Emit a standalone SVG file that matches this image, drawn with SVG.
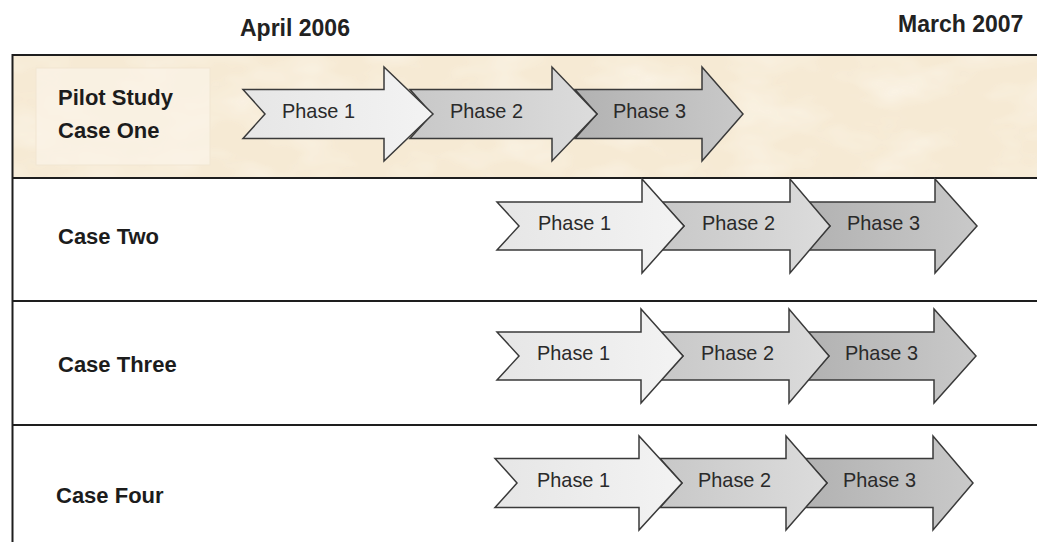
<svg xmlns="http://www.w3.org/2000/svg" width="1037" height="542" viewBox="0 0 1037 542">
  <defs>
    <style>
      .hdr { font-family: "Liberation Sans", Arial, sans-serif; font-weight: bold; font-size: 23px; fill: #222; }
      .lbl { font-family: "Liberation Sans", Arial, sans-serif; font-weight: bold; font-size: 22px; fill: #1c1c1c; }
      .ph  { font-family: "Liberation Sans", Arial, sans-serif; font-size: 21px; fill: #2a2a2a; }
      .arrow { stroke: #3a3a3a; stroke-width: 1.5; stroke-linejoin: miter; }
      .p1 { fill: url(#g1); }
      .p2 { fill: url(#g2); }
      .p3 { fill: url(#g3); }
      .rule { stroke: #1e1e1e; stroke-width: 2; fill: none; }
    </style>
    <linearGradient id="g1" x1="0" y1="0" x2="1" y2="0">
      <stop offset="0" stop-color="#e6e6e6"/>
      <stop offset="1" stop-color="#f3f3f3"/>
    </linearGradient>
    <linearGradient id="g2" x1="0" y1="0" x2="1" y2="0">
      <stop offset="0" stop-color="#c8c8c8"/>
      <stop offset="1" stop-color="#dcdcdc"/>
    </linearGradient>
    <linearGradient id="g3" x1="0" y1="0" x2="1" y2="0">
      <stop offset="0" stop-color="#b2b2b2"/>
      <stop offset="1" stop-color="#c9c9c9"/>
    </linearGradient>
    <!-- parchment mottling for the pilot row -->
    <filter id="parch" x="0" y="0" width="100%" height="100%">
      <feTurbulence type="fractalNoise" baseFrequency="0.015 0.03" numOctaves="3" seed="4" result="n"/>
      <feColorMatrix in="n" type="matrix"
        values="0 0 0 0 0.99
                0 0 0 0 0.96
                0 0 0 0 0.90
                0 0 0 1.1 -0.45"/>
    </filter>
  </defs>

  <rect width="1037" height="542" fill="#ffffff"/>

  <!-- timeline headings -->
  <text class="hdr" x="240" y="36">April 2006</text>
  <text class="hdr" x="898" y="32">March 2007</text>

  <!-- pilot row background -->
  <rect x="13" y="55" width="1024" height="123" fill="#f6ead4"/>
  <rect x="13" y="55" width="1024" height="123" filter="url(#parch)" opacity="0.9"/>
  <rect x="36" y="68" width="174" height="97" fill="#fbf4e8" fill-opacity="0.7" stroke="#f1e6d2" stroke-width="1"/>

  <!-- grid rules -->
  <g id="grid">
    <line class="rule" x1="12" y1="55" x2="1037" y2="55"/>
    <line class="rule" x1="12" y1="178" x2="1037" y2="178"/>
    <line class="rule" x1="12" y1="301" x2="1037" y2="301"/>
    <line class="rule" x1="12" y1="425" x2="1037" y2="425"/>
    <line class="rule" x1="12.5" y1="54" x2="12.5" y2="542"/>
  </g>

  <!-- row 1: pilot study -->
  <g id="case-one">
    <text class="lbl" x="58" y="105">Pilot Study</text>
    <text class="lbl" x="58" y="138">Case One</text>
    <path class="arrow p3" d="M575,89.5 L702,89.5 L702,67 L743,114 L702,161 L702,138.5 L575,138.5 L597,114 Z"/>
    <path class="arrow p2" d="M410,89.5 L552,89.5 L552,67 L597,114 L552,161 L552,138.5 L410,138.5 L432,114 Z"/>
    <path class="arrow p1" d="M243,89.5 L384,89.5 L384,67 L433,114 L384,161 L384,138.5 L243,138.5 L265,114 Z"/>
    <text class="ph" x="282" y="118" textLength="73" lengthAdjust="spacingAndGlyphs">Phase 1</text>
    <text class="ph" x="450" y="118" textLength="73" lengthAdjust="spacingAndGlyphs">Phase 2</text>
    <text class="ph" x="613" y="118" textLength="73" lengthAdjust="spacingAndGlyphs">Phase 3</text>
  </g>

  <!-- row 2 -->
  <g id="case-two">
    <text class="lbl" x="58" y="244">Case Two</text>
    <path class="arrow p3" d="M808,202 L935,202 L935,179 L977,226 L935,273 L935,250 L808,250 L830,226 Z"/>
    <path class="arrow p2" d="M662,202 L790,202 L790,179 L830,226 L790,273 L790,250 L662,250 L684,226 Z"/>
    <path class="arrow p1" d="M497,202 L642,202 L642,179 L684,226 L642,273 L642,250 L497,250 L519,226 Z"/>
    <text class="ph" x="538" y="230" textLength="73" lengthAdjust="spacingAndGlyphs">Phase 1</text>
    <text class="ph" x="702" y="230" textLength="73" lengthAdjust="spacingAndGlyphs">Phase 2</text>
    <text class="ph" x="847" y="230" textLength="73" lengthAdjust="spacingAndGlyphs">Phase 3</text>
  </g>

  <!-- row 3 -->
  <g id="case-three">
    <text class="lbl" x="58" y="372">Case Three</text>
    <path class="arrow p3" d="M807,332 L934,332 L934,309 L976,356 L934,403 L934,380 L807,380 L829,356 Z"/>
    <path class="arrow p2" d="M661,332 L789,332 L789,309 L829,356 L789,403 L789,380 L661,380 L683,356 Z"/>
    <path class="arrow p1" d="M497,332 L641,332 L641,309 L683,356 L641,403 L641,380 L497,380 L519,356 Z"/>
    <text class="ph" x="537" y="360" textLength="73" lengthAdjust="spacingAndGlyphs">Phase 1</text>
    <text class="ph" x="701" y="360" textLength="73" lengthAdjust="spacingAndGlyphs">Phase 2</text>
    <text class="ph" x="845" y="360" textLength="73" lengthAdjust="spacingAndGlyphs">Phase 3</text>
  </g>

  <!-- row 4 -->
  <g id="case-four">
    <text class="lbl" x="56" y="503">Case Four</text>
    <path class="arrow p3" d="M805,458.5 L933,458.5 L933,436 L973,483 L933,530 L933,507.5 L805,507.5 L827,483 Z"/>
    <path class="arrow p2" d="M660,458.5 L786,458.5 L786,436 L827,483 L786,530 L786,507.5 L660,507.5 L682,483 Z"/>
    <path class="arrow p1" d="M495,458.5 L639,458.5 L639,436 L682,483 L639,530 L639,507.5 L495,507.5 L517,483 Z"/>
    <text class="ph" x="537" y="487" textLength="73" lengthAdjust="spacingAndGlyphs">Phase 1</text>
    <text class="ph" x="698" y="487" textLength="73" lengthAdjust="spacingAndGlyphs">Phase 2</text>
    <text class="ph" x="843" y="487" textLength="73" lengthAdjust="spacingAndGlyphs">Phase 3</text>
  </g>
</svg>
